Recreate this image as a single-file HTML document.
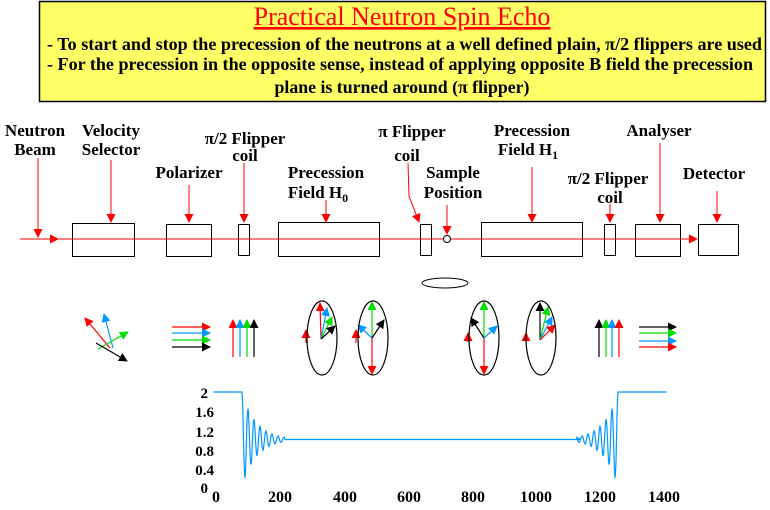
<!DOCTYPE html>
<html><head><meta charset="utf-8"><style>
body{margin:0;background:#fff;width:770px;height:510px;overflow:hidden}
svg{display:block}
text{font-family:"Liberation Serif",serif;font-weight:bold;fill:#000}
</style></head><body>
<svg id="s" width="770" height="510" xmlns="http://www.w3.org/2000/svg">
<defs>
<marker id="hr" markerWidth="9" markerHeight="9" refX="8" refY="4.5" orient="auto" markerUnits="userSpaceOnUse"><path d="M0,0L9,4.5L0,9z" fill="#f00"/></marker>
<marker id="hb" markerWidth="9" markerHeight="9" refX="8" refY="4.5" orient="auto" markerUnits="userSpaceOnUse"><path d="M0,0L9,4.5L0,9z" fill="#09f"/></marker>
<marker id="hg" markerWidth="9" markerHeight="9" refX="8" refY="4.5" orient="auto" markerUnits="userSpaceOnUse"><path d="M0,0L9,4.5L0,9z" fill="#0d0"/></marker>
<marker id="hk" markerWidth="9" markerHeight="9" refX="8" refY="4.5" orient="auto" markerUnits="userSpaceOnUse"><path d="M0,0L9,4.5L0,9z" fill="#000"/></marker>
</defs>
<rect x="39.5" y="1.5" width="726" height="100" fill="#ffff66" stroke="#000" stroke-width="1.5"/>
<text x="402" y="25" text-anchor="middle" font-size="26" style="font-weight:normal;fill:#f00" text-decoration="underline">Practical Neutron Spin Echo</text>
<text x="47" y="50" font-size="17.8" textLength="715" lengthAdjust="spacingAndGlyphs">- To start and stop the precession of the neutrons at a well defined plain, π/2 flippers are used</text>
<text x="47" y="70" font-size="17.8" textLength="706" lengthAdjust="spacingAndGlyphs">- For the precession in the opposite sense, instead of applying opposite B field the precession</text>
<text x="402" y="93" font-size="17.8" text-anchor="middle">plane is turned around (π flipper)</text>

<g font-size="17">
<text x="35" y="136" text-anchor="middle">Neutron</text><text x="35" y="155" text-anchor="middle">Beam</text>
<text x="111" y="136" text-anchor="middle">Velocity</text><text x="111" y="155" text-anchor="middle">Selector</text>
<text x="189" y="178" text-anchor="middle">Polarizer</text>
<text x="245" y="144" text-anchor="middle">π/2 Flipper</text><text x="245" y="161" text-anchor="middle">coil</text>
<text x="326" y="178" text-anchor="middle">Precession</text><text x="318" y="198" text-anchor="middle">Field H<tspan font-size="12" dy="4">0</tspan></text>
<text x="412" y="137" text-anchor="middle">π Flipper</text><text x="407" y="161" text-anchor="middle">coil</text>
<text x="453" y="178" text-anchor="middle">Sample</text><text x="453" y="198" text-anchor="middle">Position</text>
<text x="532" y="136" text-anchor="middle">Precession</text><text x="528" y="155" text-anchor="middle">Field H<tspan font-size="12" dy="4">1</tspan></text>
<text x="608" y="184" text-anchor="middle">π/2 Flipper</text><text x="610" y="203" text-anchor="middle">coil</text>
<text x="659" y="136" text-anchor="middle">Analyser</text>
<text x="714" y="179" text-anchor="middle">Detector</text>
</g>

<g fill="none" stroke="#000" stroke-width="1">
<rect x="72.5" y="223.5" width="62" height="33"/>
<rect x="166.5" y="224.5" width="45" height="32"/>
<rect x="238.5" y="224.5" width="11" height="31"/>
<rect x="278.5" y="222.5" width="101" height="34"/>
<rect x="420.5" y="224.5" width="11" height="31"/>
<circle cx="447" cy="239" r="3.5"/>
<rect x="481.5" y="222.5" width="101" height="34"/>
<rect x="604.5" y="224.5" width="11" height="31"/>
<rect x="635.5" y="224.5" width="45" height="32"/>
<rect x="698.5" y="224.5" width="40" height="31"/>
<ellipse cx="445" cy="283" rx="23" ry="5"/>
</g>
<g stroke="#f00" stroke-width="1" fill="none">
<line x1="20" y1="239" x2="443" y2="239"/>
<line x1="451" y1="239" x2="697" y2="239" marker-end="url(#hr)"/>
<line x1="20" y1="239" x2="58" y2="239" marker-end="url(#hr)"/>
<line x1="38" y1="158" x2="38" y2="237" marker-end="url(#hr)"/>
<line x1="111" y1="160" x2="111" y2="222" marker-end="url(#hr)"/>
<line x1="189" y1="185" x2="189" y2="222" marker-end="url(#hr)"/>
<line x1="244" y1="163" x2="244" y2="222" marker-end="url(#hr)"/>
<line x1="326" y1="200" x2="326" y2="222" marker-end="url(#hr)"/>
<polyline points="408,163 409,196 419,222" marker-end="url(#hr)"/>
<line x1="447" y1="205" x2="447" y2="234" marker-end="url(#hr)"/>
<line x1="532" y1="167" x2="532" y2="222" marker-end="url(#hr)"/>
<line x1="610" y1="204" x2="610" y2="222" marker-end="url(#hr)"/>
<line x1="660" y1="143" x2="660" y2="222" marker-end="url(#hr)"/>
<line x1="717" y1="191" x2="717" y2="222" marker-end="url(#hr)"/>
</g>
<g id="arr" fill="none" stroke-width="1.2"></g>
<g fill="none" stroke="#000" stroke-width="1.2">
<ellipse cx="322" cy="338" rx="15" ry="37"/>
<ellipse cx="373" cy="338" rx="15" ry="37"/>
<ellipse cx="484" cy="338" rx="15" ry="37"/>
<ellipse cx="541" cy="338" rx="15" ry="37"/>
</g>

<g font-size="15" text-anchor="end">
<text x="208" y="398">2</text><text x="214" y="417">1.6</text><text x="214" y="437">1.2</text>
<text x="214" y="456">0.8</text><text x="214" y="475">0.4</text><text x="208" y="493">0</text>
</g>
<g font-size="16" text-anchor="middle">
<text x="216" y="502">0</text><text x="280" y="502">200</text><text x="345" y="502">400</text><text x="409" y="502">600</text>
<text x="473" y="502">800</text><text x="536" y="502">1000</text><text x="600" y="502">1200</text><text x="664" y="502">1400</text>
</g>
<polyline id="curve" fill="none" stroke="#09f" stroke-width="1.2"/>
</svg>
<script>
var A=[
['r',110,348,85,318],['b',113,348,104,314],['g',98,349,128,332],['k',96,343,127,361],
['r',172,327,210,327],['b',172,333,210,333],['g',172,340,210,340],['k',172,347,210,347],
['r',233,357,233,320],['b',240,357,240,320],['g',247,357,247,320],['k',254,357,254,320],
['r',321,339,320,303],['b',321,339,327,308],['g',321,339,332,317],['k',321,339,335,326],['r',306,343,306,330],
['g',372,338,372,302],['r',372,338,372,374],['b',372,338,358,325],['k',372,338,384,320],['r',356,343,356,330],
['g',484,338,484,302],['r',484,338,484,374],['k',484,338,471,318],['b',484,338,497,326],['r',468,342,468,333],
['k',540,340,540,303],['g',540,340,548,307],['b',540,340,552,317],['r',540,340,555,325],['r',526,342,526,333],
['k',599,357,599,320],['g',606,357,606,320],['b',612,357,612,320],['r',619,357,619,320],
['k',639,327,676,327],['g',639,333,676,333],['b',639,341,676,341],['r',639,347,676,347]];
var C={r:'#f00',b:'#09f',g:'#0d0',k:'#000'},g=document.getElementById('arr'),h='';
A.forEach(function(a){h+='<line x1="'+a[1]+'" y1="'+a[2]+'" x2="'+a[3]+'" y2="'+a[4]+'" stroke="'+C[a[0]]+'" marker-end="url(#h'+a[0]+')"/>';});
g.innerHTML=h;
function Y(v){return 487-47.5*v;}
var p=[[213,Y(2)],[242,Y(2)]];
for(var x=242;x<=581;x+=0.5){var v=1;
 if(x<285)v=1+Math.exp(-(x-242)/14)*Math.cos(2*Math.PI*(x-242)/6);
 if(x>576)v=1;
 p.push([x,Y(v)]);}
for(var x=576;x<=618;x+=0.5){var v=1+Math.exp(-(618-x)/14)*Math.cos(2*Math.PI*(618-x)/6);p.push([x,Y(v)]);}
p.push([618,Y(2)],[667,Y(2)]);
document.getElementById('curve').setAttribute('points',p.map(function(q){return q[0]+','+q[1].toFixed(1)}).join(' '));
</script>
</body></html>
